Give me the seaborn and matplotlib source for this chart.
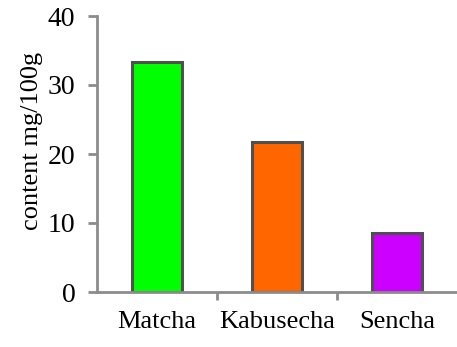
import matplotlib
matplotlib.use("Agg")
import matplotlib.pyplot as plt
import seaborn as sns
import pandas as pd
from matplotlib.ticker import FixedLocator

teas = ["Matcha", "Kabusecha", "Sencha"]
content = [33.3, 21.8, 8.5]
bar_colors = ["#00FF00", "#FF6600", "#CC00FF"]
y_ticks = [0, 10, 20, 30, 40]

sns.set_style("white")
plt.rcParams["font.family"] = ["Liberation Serif", "DejaVu Serif"]
plt.rcParams["text.color"] = "black"
plt.rcParams["axes.labelcolor"] = "black"
plt.rcParams["xtick.labelcolor"] = "black"
plt.rcParams["ytick.labelcolor"] = "black"

df = pd.DataFrame({"tea": teas, "content": content})

fig = plt.figure(figsize=(4.57, 3.47), dpi=100)
ax = fig.add_axes([97 / 457, 1 - 292 / 347, (457 - 97) / 457, (292 - 16) / 347])

sns.barplot(data=df, x="tea", y="content", hue="tea", palette=bar_colors,
            saturation=1, width=0.41, edgecolor="#505050", linewidth=2.2,
            legend=False, ax=ax)

ax.set_xlim(-0.5, 2.5)
ax.set_ylim(0, 40)
ax.set_yticks(y_ticks)
ax.set_xlabel("")
ax.set_ylabel("content mg/100g", fontsize=19)
ax.yaxis.set_label_coords(-54 / 360, (292 - 141) / 276)

for side in ["top", "right"]:
    ax.spines[side].set_visible(False)
for side in ["left", "bottom"]:
    ax.spines[side].set_color("#8c8c8c")
    ax.spines[side].set_linewidth(2)

ax.tick_params(axis="y", which="major", direction="out", length=6.5, width=2,
               color="#8c8c8c", labelsize=20, pad=9, left=True)
ax.tick_params(axis="x", which="major", length=0, labelsize=19, pad=14)
ax.xaxis.set_minor_locator(FixedLocator([0.5, 1.5]))
ax.tick_params(axis="x", which="minor", direction="out", length=6, width=2,
               color="#8c8c8c", bottom=True)

fig.savefig("out.png", dpi=100)
